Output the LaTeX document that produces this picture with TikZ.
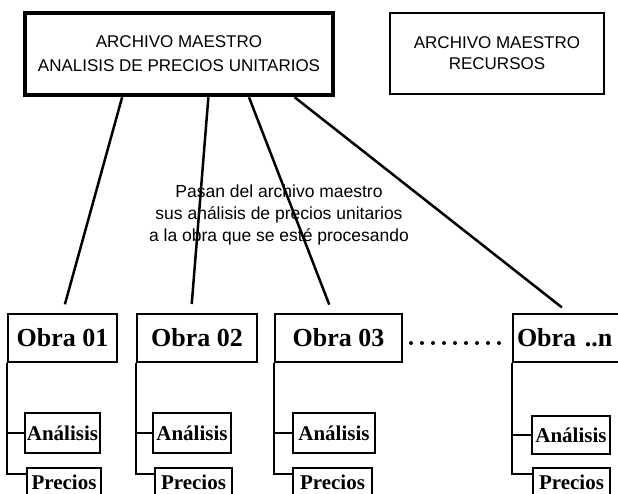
\documentclass[tikz,border=0pt]{standalone}
\usepackage{fontspec}
\setmainfont{Liberation Serif}
\setsansfont{Liberation Sans}
\usepackage{tikz}
\usetikzlibrary{positioning, calc}
\tikzstyle{masterbox} = [
    rectangle, draw=black, inner sep=0pt, align=center,
    font=\sffamily\fontsize{17}{24}\selectfont
]
\tikzstyle{obrabox} = [
    rectangle, draw=black, line width=2pt, inner sep=0pt,
    minimum height=48pt, font=\bfseries\fontsize{26}{30}\selectfont
]
\tikzstyle{subbox} = [
    rectangle, draw=black, line width=2.6pt, inner sep=0pt,
    font=\bfseries\fontsize{21}{24}\selectfont
]
\tikzstyle{link} = [line width=2.5pt, shorten >=9pt]
\tikzstyle{branch} = [line width=2pt]
\tikzstyle{dotline} = [line width=4pt, line cap=round, dash pattern=on 0pt off 11pt,
    shorten <=8pt, shorten >=11pt]

\begin{document}
\begin{tikzpicture}[x=1pt, y=-1pt]
    \useasboundingbox (0,0) rectangle (618,493);

    % archivos maestros
    \node [masterbox, line width=4.5pt, minimum width=308pt, minimum height=82pt]
        (master) at (179,54) {ARCHIVO MAESTRO\\ANALISIS DE PRECIOS UNITARIOS};
    \node [masterbox, line width=2pt, minimum width=214pt, minimum height=81pt,
        font=\sffamily\fontsize{17}{21}\selectfont]
        (recursos) at (497,53.5) {ARCHIVO MAESTRO\\RECURSOS};

    \node [font=\sffamily\fontsize{17.5}{22}\selectfont, align=center] (note) at (279,215)
        {Pasan del archivo maestro\\sus análisis de precios unitarios\\a la obra que se esté procesando};

    % obras
    \node [obrabox, minimum width=109pt] (obra01) at (62.5,338) {Obra 01};
    \node [obrabox, minimum width=120pt] (obra02) at (197,338) {Obra 02};
    \node [obrabox, minimum width=127pt] (obra03) at (338.5,338) {Obra 03};
    \node [obrabox, minimum width=120pt, text width=112pt, align=left] (obran) at (573,338) {Obra ..n};

    \node [subbox, minimum width=75pt, minimum height=40pt] (ana01) at (62.5,433) {Análisis};
    \node [subbox, minimum width=78pt, minimum height=40pt] (ana02) at (192,433) {Análisis};
    \node [subbox, minimum width=82pt, minimum height=40pt] (ana03) at (334,433) {Análisis};
    \node [subbox, minimum width=78pt, minimum height=38pt] (anan) at (571,435) {Análisis};

    \node [subbox, minimum width=74pt, minimum height=28pt] (pre01) at (64,482) {Precios};
    \node [subbox, minimum width=77pt, minimum height=28pt] (pre02) at (193.5,482) {Precios};
    \node [subbox, minimum width=79pt, minimum height=28pt] (pre03) at (332.5,482) {Precios};
    \node [subbox, minimum width=77pt, minimum height=28pt] (pren) at (571.5,482) {Precios};

    % del maestro a las obras
    \path [link, draw] ($(master.south west)!0.318!(master.south east)$) -- (obra01.north);
    \path [link, draw] ($(master.south west)!0.594!(master.south east)$) -- ([xshift=-6pt]obra02.north);
    \path [link, draw] ($(master.south west)!0.724!(master.south east)$) -- ([xshift=-6pt]obra03.north);
    \path [link, draw] ($(master.south west)!0.870!(master.south east)$) -- ([xshift=-4pt]obran.north);

    \path [dotline, draw] ([yshift=-5pt]obra03.east) -- ([yshift=-5pt]obran.west);

    % ramas
    \foreach \o in {01,02,03,n} {
        \path [branch, draw] (obra\o.south west) |- (ana\o.west);
        \path [branch, draw] (obra\o.south west) |- ([yshift=-7pt]pre\o.north west);
    }
\end{tikzpicture}
\end{document}
